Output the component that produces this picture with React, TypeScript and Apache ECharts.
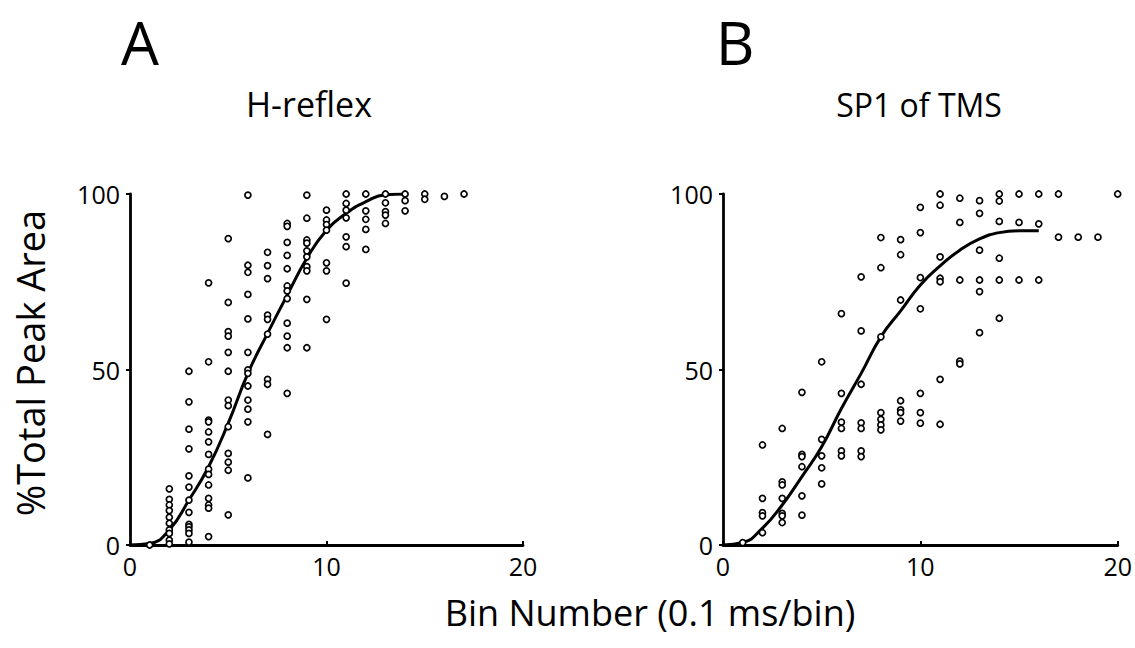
import React, { useEffect, useRef } from "react";
import * as echarts from "echarts";

// Panel A: H-reflex — values grouped by bin number
const hBins = [1, 2, 3, 4, 5, 6, 7, 8, 9, 10, 11, 12, 13, 14, 15, 16, 17];
const hValues: number[][] = [
  [0],
  [16, 13, 11.4, 9.8, 7.9, 6.2, 4.3, 3.3, 1.4, 0.3],
  [49.5, 40.8, 33, 27.4, 19.7, 16.5, 12.8, 9.3, 5.9, 5.2, 4.3, 3.3, 0.8],
  [74.7, 52.2, 35.6, 35.1, 32.2, 29.4, 25.8, 21.6, 20.1, 17.1, 13.3, 11.4, 10.5, 2.4],
  [87.3, 69.1, 60.8, 59.5, 54.9, 49.5, 41.3, 39.7, 33.7, 26.1, 23.6, 21.3, 8.6],
  [99.7, 79.7, 77.7, 71.4, 64.4, 54.9, 49.9, 48.9, 45.3, 41.3, 38.7, 35.1, 19.1],
  [83.4, 79.6, 75.9, 65.5, 64.3, 60.1, 47.2, 45.8, 31.5],
  [91.6, 90.8, 86.2, 82.5, 78.7, 73.8, 72.4, 70.2, 63.2, 59.5, 56.2, 43.2],
  [99.7, 93.1, 86.9, 86, 83.8, 82.1, 79.3, 78.1, 70, 56.2],
  [95.4, 92.6, 91.3, 89.7, 80.4, 78.1, 64.3],
  [100, 97.3, 95.4, 93.2, 87.8, 85, 74.6],
  [100, 95.2, 92.8, 89.9, 84.2],
  [100, 97.5, 95, 94, 91.6],
  [100, 98.1, 95.2],
  [100, 98.5],
  [99.3],
  [100],
];
const hCurveX = [0, 1, 2, 3, 4, 5, 6, 7, 8, 9, 10, 11, 12, 13, 14];
const hCurveY = [0, 0.4, 4.3, 12.8, 22.3, 34.7, 48.9, 60.3, 71.2, 81.7, 89.7, 94.5, 97.8, 99.8, 100];

// Panel B: SP1 of TMS
const sBins = [1, 2, 3, 4, 5, 6, 7, 8, 9, 10, 11, 12, 13, 14, 15, 16, 17, 18, 19, 20];
const sValues: number[][] = [
  [0.7],
  [28.5, 13.3, 9.2, 8.3, 3.5],
  [33.2, 18, 17.1, 13.3, 9, 8.3, 6.4],
  [43.5, 25.8, 25.2, 22.3, 14, 8.5],
  [52.2, 30.1, 25.4, 22, 17.4],
  [65.9, 43.2, 35, 33.2, 26.8, 25.4],
  [76.4, 61, 45.8, 34.8, 33.2, 26.8, 25.2],
  [87.6, 79, 59.3, 37.7, 35.8, 34.2, 32.8],
  [87, 82.7, 69.8, 41.1, 38.5, 37.7, 35.3],
  [96.2, 89, 76.2, 67.3, 43.2, 37.7, 34.7],
  [100, 96.8, 82.1, 76, 75, 47.2, 34.4],
  [98.8, 91.9, 75.5, 52.4, 51.6],
  [98.1, 94.5, 84, 75.5, 72.2, 60.5],
  [100, 98, 92.2, 81.7, 75.5, 64.6],
  [100, 91.9, 75.5],
  [100, 91.5, 75.5],
  [100, 87.7],
  [87.7],
  [87.7],
  [100],
];
const sCurveX = [0, 1, 2, 3, 4, 5, 6, 7, 8, 9, 10, 11, 12, 13, 14, 15, 16];
const sCurveY = [0, 0.7, 4.8, 11.4, 19.5, 28, 38.9, 48.9, 59.3, 66.7, 74.1, 79.5, 84, 87.2, 89, 89.5, 89.5];

const xTicks = [0, 10, 20];
const yTicks = [0, 50, 100];

const FONT = "'Open Sans', 'Noto Sans', sans-serif";

function pairs(bins: number[], values: number[][]) {
  const out: number[][] = [];
  bins.forEach((b, i) => values[i].forEach((v) => out.push([b, v])));
  return out;
}
function curve(xs: number[], ys: number[]) {
  return xs.map((x, i) => [x, ys[i]]);
}

export default function App() {
  const ref = useRef<HTMLDivElement>(null);
  useEffect(() => {
    document.body.style.margin = "0";
    const chart = echarts.init(ref.current!, null, { renderer: "svg" });
    const axisLine = { show: true, onZero: false, lineStyle: { color: "#000", width: 2.8 } };
    const mkX = (gi: number) => ({
      type: "value",
      gridIndex: gi,
      min: xTicks[0],
      max: xTicks[xTicks.length - 1],
      interval: xTicks[1] - xTicks[0],
      axisLine,
      axisTick: { show: true, length: 4, inside: true, lineStyle: { color: "#000", width: 2 } },
      splitLine: { show: false },
      axisLabel: { color: "#000", fontSize: 25, fontFamily: FONT, margin: 8 },
    });
    const mkY = (gi: number) => ({
      type: "value",
      gridIndex: gi,
      min: yTicks[0],
      max: yTicks[yTicks.length - 1],
      interval: yTicks[1] - yTicks[0],
      axisLine,
      axisTick: { show: true, length: 4, lineStyle: { color: "#000", width: 2 } },
      splitLine: { show: false },
      axisLabel: { color: "#000", fontSize: 25, fontFamily: FONT, margin: 10 },
    });
    const scatterStyle = {
      type: "scatter",
      symbol: "circle",
      symbolSize: 6,
      itemStyle: { color: "#fff", borderColor: "#000", borderWidth: 1.7, opacity: 1 },
      z: 3,
    };
    const lineStyle = {
      type: "line",
      smooth: true,
      showSymbol: false,
      symbol: "none",
      lineStyle: { color: "#000", width: 3 },
      z: 2,
    };
    chart.setOption({
      animation: false,
      backgroundColor: "#fff",
      grid: [
        { left: 130, top: 194, width: 393, height: 351 },
        { left: 723, top: 194, width: 395, height: 351 },
      ],
      xAxis: [mkX(0), mkX(1)],
      yAxis: [mkY(0), mkY(1)],
      series: [
        { ...lineStyle, name: "H-reflex fit", xAxisIndex: 0, yAxisIndex: 0, data: curve(hCurveX, hCurveY) },
        { ...scatterStyle, name: "H-reflex", xAxisIndex: 0, yAxisIndex: 0, data: pairs(hBins, hValues) },
        { ...lineStyle, name: "SP1 fit", xAxisIndex: 1, yAxisIndex: 1, data: curve(sCurveX, sCurveY) },
        { ...scatterStyle, name: "SP1 of TMS", xAxisIndex: 1, yAxisIndex: 1, data: pairs(sBins, sValues) },
      ],
      graphic: [
        { type: "text", x: 140, y: 42, style: { text: "A", font: `60px ${FONT}`, fill: "#000", textAlign: "center", textVerticalAlign: "middle" } },
        { type: "text", x: 309, y: 104, style: { text: "H-reflex", font: `34px ${FONT}`, fill: "#000", textAlign: "center", textVerticalAlign: "middle" } },
        { type: "text", x: 735, y: 42, style: { text: "B", font: `60px ${FONT}`, fill: "#000", textAlign: "center", textVerticalAlign: "middle" } },
        { type: "text", x: 919, y: 104, style: { text: "SP1 of TMS", font: `32px ${FONT}`, fill: "#000", textAlign: "center", textVerticalAlign: "middle" } },
        { type: "text", x: 30, y: 363, rotation: Math.PI / 2, style: { text: "%Total Peak Area", font: `38px ${FONT}`, fill: "#000", textAlign: "center", textVerticalAlign: "middle" } },
        { type: "text", x: 650, y: 612, style: { text: "Bin Number (0.1 ms/bin)", font: `36px ${FONT}`, fill: "#000", textAlign: "center", textVerticalAlign: "middle" } },
      ],
    });
    return () => chart.dispose();
  }, []);
  return <div ref={ref} style={{ width: 1135, height: 648 }} />;
}
